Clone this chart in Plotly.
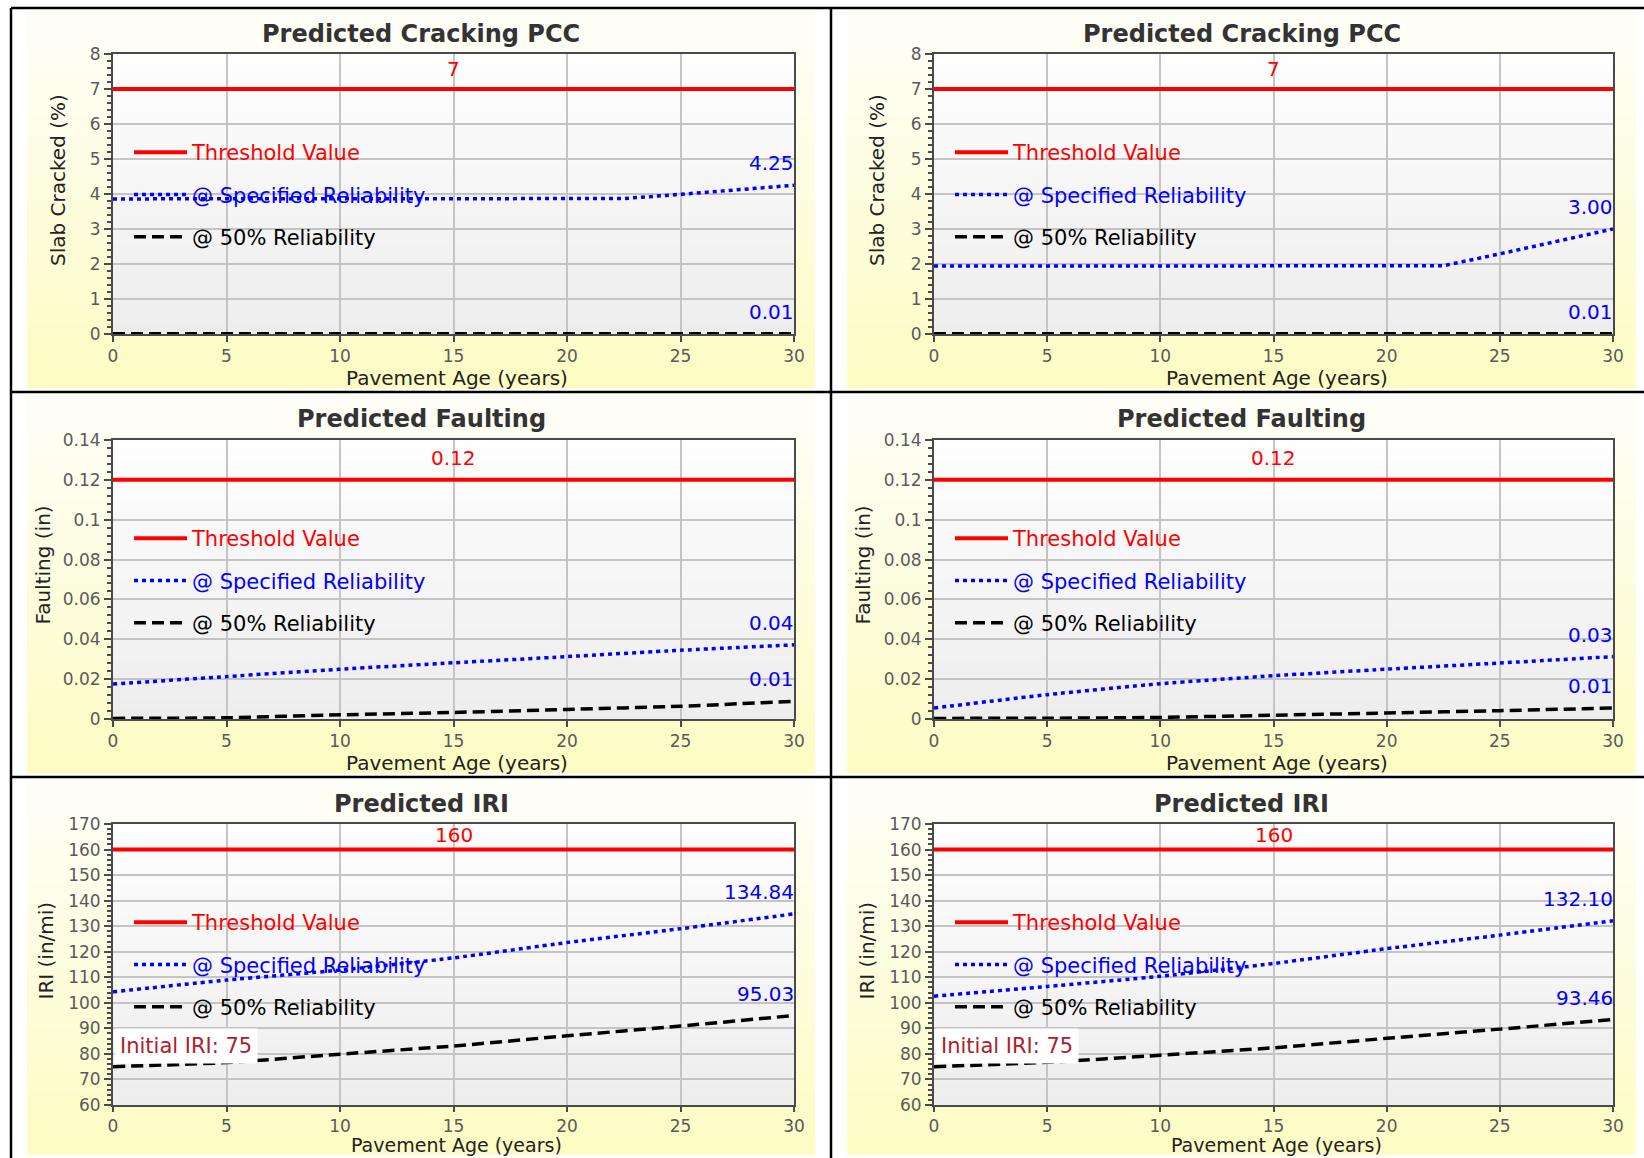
import plotly.graph_objects as go

W, H = 1644, 1158
FONT = "DejaVu Sans"

# ---------------- data ----------------
crack_years = [0, 5, 10, 15, 20, 22.5, 25, 27.5, 30]
crack_spec_L = [3.86, 3.86, 3.86, 3.86, 3.86, 3.87, 3.99, 4.12, 4.25]
crack_50_L = [0.01, 0.01, 0.01, 0.01, 0.01, 0.01, 0.01, 0.01, 0.01]
crack_spec_R = [1.94, 1.94, 1.94, 1.94, 1.94, 1.95, 2.29, 2.64, 3.00]
crack_50_R = [0.01, 0.01, 0.01, 0.01, 0.01, 0.01, 0.01, 0.01, 0.01]
crack_threshold = 7

fault_years = [0, 5, 10, 15, 20, 25, 30]
fault_spec_L = [0.0175, 0.0213, 0.0250, 0.0282, 0.0313, 0.0345, 0.0372]
fault_50_L = [0.0003, 0.0006, 0.0021, 0.0033, 0.0048, 0.0064, 0.0089]
fault_spec_R = [0.0055, 0.0122, 0.0177, 0.0217, 0.0250, 0.0281, 0.0313]
fault_50_R = [0.0003, 0.0004, 0.0008, 0.0019, 0.0030, 0.0042, 0.0055]
fault_threshold = 0.12

iri_years = [0, 5, 10, 15, 20, 25, 30]
iri_spec_L = [104.3, 108.9, 112.8, 117.6, 123.6, 129.0, 134.84]
iri_50_L = [75.0, 76.6, 79.9, 83.1, 87.1, 90.9, 95.03]
iri_spec_R = [102.6, 106.4, 110.4, 115.4, 121.2, 126.5, 132.10]
iri_50_R = [75.0, 76.7, 79.5, 82.4, 86.1, 89.7, 93.46]
iri_threshold = 160

x_title = "Pavement Age (years)"
legend_names = ["Threshold Value", "@ Specified Reliability", "@ 50% Reliability"]

panels = [
    dict(title="Predicted Cracking PCC", ytitle="Slab Cracked (%)", years=crack_years,
         spec=crack_spec_L, p50=crack_50_L, thr=crack_threshold, yrange=[0, 8], dtick=1, minor=0.2,
         shape="linear", ytoff=55),
    dict(title="Predicted Cracking PCC", ytitle="Slab Cracked (%)", years=crack_years,
         spec=crack_spec_R, p50=crack_50_R, thr=crack_threshold, yrange=[0, 8], dtick=1, minor=0.2,
         shape="linear", ytoff=57),
    dict(title="Predicted Faulting", ytitle="Faulting (in)", years=fault_years,
         spec=fault_spec_L, p50=fault_50_L, thr=fault_threshold, yrange=[0, 0.14], dtick=0.02, minor=0.004,
         shape="spline", ytoff=71),
    dict(title="Predicted Faulting", ytitle="Faulting (in)", years=fault_years,
         spec=fault_spec_R, p50=fault_50_R, thr=fault_threshold, yrange=[0, 0.14], dtick=0.02, minor=0.004,
         shape="spline", ytoff=72),
    dict(title="Predicted IRI", ytitle="IRI (in/mi)", years=iri_years,
         spec=iri_spec_L, p50=iri_50_L, thr=iri_threshold, yrange=[60, 170], dtick=10, minor=2,
         shape="spline", initial=True, ytoff=68),
    dict(title="Predicted IRI", ytitle="IRI (in/mi)", years=iri_years,
         spec=iri_spec_R, p50=iri_50_R, thr=iri_threshold, yrange=[60, 170], dtick=10, minor=2,
         shape="spline", initial=True, ytoff=68),
]

# ---------------- geometry (pixels) ----------------
PLOT_X = [(113, 794), (934, 1613)]
PLOT_Y = [(54, 334), (440, 719), (824, 1105)]
PANEL_X = [(27, 815), (847, 1636)]
FRAME_Y = [8, 392, 777, 1158]
ROW_OFF = [0, 385, 770]


def fx(v):
    return v / W


def fy(v):
    return 1 - v / H


def mix(c1, c2, t):
    return "rgb(%d,%d,%d)" % tuple(round(a + (b - a) * t) for a, b in zip(c1, c2))


fig = go.Figure()
shapes = []
annotations = []
layout = dict(
    width=W, height=H, margin=dict(l=0, r=0, t=0, b=0, pad=0),
    paper_bgcolor="white", plot_bgcolor="rgba(0,0,0,0)",
    font=dict(family=FONT), hovermode=False, showlegend=True,
)

# panel gradient backgrounds (paper)
NB = 36
for r in range(3):
    y0p, y1p = FRAME_Y[r] + 2, FRAME_Y[r + 1] - 4
    for c in range(2):
        x0p, x1p = PANEL_X[c]
        for i in range(NB):
            t = (i + 0.5) / NB
            ya = y0p + (y1p - y0p) * i / NB
            yb = y0p + (y1p - y0p) * (i + 1) / NB + 0.6
            shapes.append(dict(type="rect", xref="paper", yref="paper", layer="below",
                               x0=fx(x0p), x1=fx(x1p), y0=fy(yb), y1=fy(ya),
                               line=dict(width=0), fillcolor=mix((254, 254, 248), (252, 252, 194), t ** 1.1)))

for k, p in enumerate(panels, start=1):
    r, c = (k - 1) // 2, (k - 1) % 2
    xa = "x" if k == 1 else f"x{k}"
    ya = "y" if k == 1 else f"y{k}"
    lg = "legend" if k == 1 else f"legend{k}"
    px0, px1 = PLOT_X[c]
    py0, py1 = PLOT_Y[r]

    # plot-area gradient
    NPB = 28
    for i in range(NPB):
        t = (i + 0.5) / NPB
        shapes.append(dict(type="rect", xref=f"{xa} domain", yref=f"{ya} domain", layer="below",
                           x0=0, x1=1, y0=1 - (i + 1) / NPB - 0.004, y1=1 - i / NPB,
                           line=dict(width=0), fillcolor=mix((254, 254, 254), (237, 237, 237), t)))

    yrs = p["years"]
    fig.add_trace(go.Scatter(
        x=[yrs[0], yrs[-1]], y=[p["thr"], p["thr"]], mode="lines",
        line=dict(color="#ff0000", width=4),
        name=f"<span style='color:#ff0000'>{legend_names[0]}</span>",
        xaxis=xa, yaxis=ya, legend=lg, legendgroup=f"t{k}"))
    fig.add_trace(go.Scatter(
        x=yrs, y=p["spec"], mode="lines",
        line=dict(color="#0000ff", width=3.5, dash="4px,4px", shape=p["shape"], smoothing=0.6),
        name=f"<span style='color:#0000ff'>{legend_names[1]}</span>",
        xaxis=xa, yaxis=ya, legend=lg, legendgroup=f"s{k}"))
    fig.add_trace(go.Scatter(
        x=yrs, y=p["p50"], mode="lines",
        line=dict(color="#000000", width=3.5, dash="12px,6px", shape=p["shape"], smoothing=0.6),
        name=f"<span style='color:#000000'>{legend_names[2]}</span>",
        xaxis=xa, yaxis=ya, legend=lg, legendgroup=f"f{k}"))

    layout[lg] = dict(
        x=fx(px0 + 16), y=fy(py0 + 78), xanchor="left", yanchor="top",
        bgcolor="rgba(0,0,0,0)", borderwidth=0, font=dict(family=FONT, size=21),
        tracegroupgap=12, itemwidth=53, traceorder="grouped",
    )

    axis_common = dict(
        showgrid=True, gridcolor="#c4c4c4", gridwidth=2, zeroline=False,
        showline=True, linecolor="#4a4a4a", linewidth=2, mirror=True,
        ticks="outside", tickcolor="#4a4a4a", tickwidth=1.5,
        tickfont=dict(family=FONT, size=17, color="#5a5a5a"),
        automargin=False, fixedrange=True,
    )
    layout["xaxis" if k == 1 else f"xaxis{k}"] = dict(
        axis_common, domain=[fx(px0), fx(px1)], anchor=ya, range=[0, 30],
        tick0=0, dtick=5, ticklen=6 if r < 2 else 5)
    layout["yaxis" if k == 1 else f"yaxis{k}"] = dict(
        axis_common, domain=[fy(py1), fy(py0)], anchor=xa, range=p["yrange"],
        tick0=p["yrange"][0], dtick=p["dtick"], ticklen=7,
        minor=dict(dtick=p["minor"], ticks="outside", ticklen=4, tickcolor="#4a4a4a", showgrid=False))

    # titles
    annotations.append(dict(text=f"<b>{p['title']}</b>", xref="paper", yref="paper",
                            x=fx(sum(PANEL_X[c]) / 2), y=fy(34 + ROW_OFF[r]), showarrow=False,
                            xanchor="center", yanchor="middle",
                            font=dict(family=FONT, size=24, color="#333333")))
    if r < 2:
        annotations.append(dict(text=x_title, xref="paper", yref="paper",
                                x=fx((px0 + px1) / 2 + 3), y=fy(py1 + 44), showarrow=False,
                                xanchor="center", yanchor="middle",
                                font=dict(family=FONT, size=20, color="#222222")))
    else:
        annotations.append(dict(text=x_title, xref="paper", yref="paper",
                                x=fx((px0 + px1) / 2 + 3), y=fy(H - 1), showarrow=False,
                                xanchor="center", yanchor="bottom", borderpad=0,
                                font=dict(family=FONT, size=19, color="#222222")))
    annotations.append(dict(text=p["ytitle"], xref="paper", yref="paper", textangle=-90,
                            x=fx(px0 - p["ytoff"]), y=fy((py0 + py1) / 2 - 14), showarrow=False,
                            xanchor="center", yanchor="middle",
                            font=dict(family=FONT, size=20, color="#222222")))
    # value labels
    annotations.append(dict(text=f"{p['thr']:g}", xref=xa, yref=ya, x=15,
                            y=(p["thr"] + p["yrange"][1]) / 2,
                            yshift=2, showarrow=False, xanchor="center", yanchor="middle",
                            font=dict(family=FONT, size=20, color="#ff0000")))
    for series in (p["spec"], p["p50"]):
        annotations.append(dict(text=f"{series[-1]:.2f}", xref=xa, yref=ya, x=yrs[-1], y=series[-1],
                                yshift=22, xshift=2, showarrow=False, xanchor="right", yanchor="middle",
                                font=dict(family=FONT, size=20, color="#0000ff")))
    if p.get("initial"):
        annotations.append(dict(text=f"Initial IRI: {p['p50'][0]:g}", xref=xa, yref=ya,
                                x=yrs[0], y=p["p50"][0], yshift=21, xshift=1,
                                showarrow=False, xanchor="left", yanchor="middle",
                                bgcolor="white", borderpad=5,
                                font=dict(family=FONT, size=21, color="#b0202a")))

# frame lines
frame = [
    (11, 8, W, 8), (11, 8, 11, H), (831, 8, 831, H),
    (11, 392, W, 392), (11, 777, W, 777),
]
for x0, y0, x1, y1 in frame:
    shapes.append(dict(type="line", xref="paper", yref="paper", layer="above",
                       x0=fx(x0), y0=fy(y0), x1=fx(x1), y1=fy(y1),
                       line=dict(color="#000000", width=2.5)))

layout["shapes"] = shapes
layout["annotations"] = annotations
fig.update_layout(**layout)
fig.write_html("out.html", config={"displayModeBar": False})
